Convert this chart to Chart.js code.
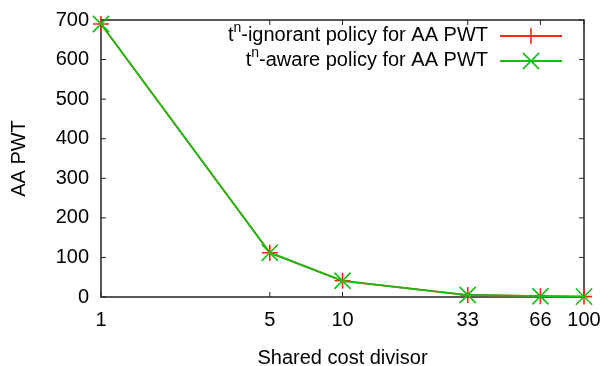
<!DOCTYPE html>
<html>
<head>
<meta charset="utf-8">
<script src="https://cdn.jsdelivr.net/npm/chart.js@4.4.1/dist/chart.umd.min.js"></script>
<style>
  html, body { margin: 0; padding: 0; background: #fff; }
</style>
</head>
<body>
<canvas id="c" width="603" height="366"></canvas>
<script>
// data
const divisors = [1, 5, 10, 33, 66, 100];
const ignorantPwt = [690, 112, 41, 5, 2, 1];
const awarePwt = [690, 112, 41, 5, 2, 1];
const xTickValues = [1, 5, 10, 33, 66, 100];
const seriesLabels = ['tⁿ-ignorant policy for AA PWT', 'tⁿ-aware policy for AA PWT'];

const FONT = "'Liberation Sans', Arial, Helvetica, sans-serif";
const RED = '#f42a10';
const GREEN = '#12c012';
const FRAME = '#222';

const toPoints = (ys) => divisors.map((d, i) => ({ x: d, y: ys[i] }));

// border box + inward ticks on all four sides, like gnuplot mirror tics
const gnuplotFrame = {
  id: 'gnuplotFrame',
  beforeDatasetsDraw(chart) {
    const { ctx, chartArea: a, scales: { x, y } } = chart;
    const tl = 5;
    ctx.save();
    ctx.strokeStyle = FRAME;
    ctx.lineWidth = 1;
    ctx.beginPath();
    x.ticks.forEach(t => {
      const px = x.getPixelForValue(t.value);
      ctx.moveTo(px, a.bottom); ctx.lineTo(px, a.bottom - tl);
      ctx.moveTo(px, a.top); ctx.lineTo(px, a.top + tl);
    });
    y.ticks.forEach(t => {
      const py = y.getPixelForValue(t.value);
      ctx.moveTo(a.left, py); ctx.lineTo(a.left + tl, py);
      ctx.moveTo(a.right, py); ctx.lineTo(a.right - tl, py);
    });
    ctx.stroke();
    ctx.lineWidth = 1.5;
    ctx.strokeRect(a.left, a.top, a.right - a.left, a.bottom - a.top);
    ctx.restore();
  }
};

// key in the top right corner: text right aligned, sample on the right
const gnuplotKey = {
  id: 'gnuplotKey',
  afterDatasetsDraw(chart) {
    const { ctx, chartArea: a } = chart;
    const textRight = a.right - 96;
    const lineL = a.right - 84, lineR = a.right - 22;
    const mid = (lineL + lineR) / 2;
    chart.data.datasets.forEach((ds, i) => {
      const ly = a.top + 16 + i * 25;
      const base = ly + 5;
      // text with superscript n
      const parts = ds.label.split('ⁿ');
      const normal = `20px ${FONT}`;
      const sup = `14px ${FONT}`;
      ctx.save();
      ctx.fillStyle = '#000';
      ctx.textBaseline = 'alphabetic';
      ctx.textAlign = 'left';
      ctx.font = normal;
      const w0 = ctx.measureText(parts[0]).width;
      const w2 = ctx.measureText(parts[1]).width;
      ctx.font = sup;
      const w1 = ctx.measureText('n').width;
      let x0 = textRight - (w0 + w1 + w2);
      ctx.font = normal;
      ctx.fillText(parts[0], x0, base);
      ctx.font = sup;
      ctx.fillText('n', x0 + w0, base - 9);
      ctx.font = normal;
      ctx.fillText(parts[1], x0 + w0 + w1, base);
      // sample line + marker
      ctx.strokeStyle = ds.borderColor;
      ctx.lineWidth = ds.borderWidth;
      ctx.beginPath();
      ctx.moveTo(lineL, ly);
      ctx.lineTo(lineR, ly);
      ctx.stroke();
      ctx.lineWidth = ds.pointBorderWidth;
      ctx.fillStyle = ds.borderColor;
      Chart.helpers.drawPoint(ctx, {
        pointStyle: ds.pointStyle,
        radius: ds.pointRadius,
        rotation: 0,
        borderWidth: ds.pointBorderWidth
      }, mid, ly);
      ctx.restore();
    });
  }
};

new Chart(document.getElementById('c'), {
  type: 'line',
  data: {
    datasets: [
      {
        label: seriesLabels[0],
        data: toPoints(ignorantPwt),
        order: 1, // drawn first, green goes on top
        borderColor: RED,
        backgroundColor: RED,
        borderWidth: 1.8,
        pointStyle: 'cross',
        pointRadius: 8,
        pointHoverRadius: 8,
        pointBorderWidth: 1.6,
        pointBorderColor: RED,
        tension: 0,
        clip: false
      },
      {
        label: seriesLabels[1],
        data: toPoints(awarePwt),
        order: 0,
        borderColor: GREEN,
        backgroundColor: GREEN,
        borderWidth: 1.8,
        pointStyle: 'crossRot',
        pointRadius: 11.5,
        pointHoverRadius: 11.5,
        pointBorderWidth: 1.6,
        pointBorderColor: GREEN,
        tension: 0,
        clip: false
      }
    ]
  },
  options: {
    responsive: false,
    animation: false,
    events: [],
    layout: { padding: { top: 20, right: 19, left: 0, bottom: 0 } },
    plugins: {
      legend: { display: false },
      tooltip: { enabled: false }
    },
    scales: {
      x: {
        type: 'logarithmic',
        min: 1,
        max: 100,
        afterBuildTicks: s => { s.ticks = xTickValues.map(v => ({ value: v })); },
        afterFit: s => { s.height = 69; s.paddingLeft = 0; s.paddingRight = 0; },
        ticks: {
          autoSkip: false,
          maxRotation: 0,
          padding: 11,
          color: '#000',
          font: { family: FONT, size: 20 },
          callback: v => String(v)
        },
        grid: { display: false, drawTicks: false },
        border: { display: false },
        title: {
          display: true,
          text: 'Shared cost divisor',
          color: '#000',
          font: { family: FONT, size: 20, lineHeight: 1 },
          padding: { top: 0, bottom: -2 }
        }
      },
      y: {
        min: 0,
        max: 700,
        afterFit: s => { s.width = 101; s.paddingTop = 0; s.paddingBottom = 0; },
        ticks: {
          stepSize: 100,
          padding: 12,
          color: '#000',
          font: { family: FONT, size: 20 }
        },
        grid: { display: false, drawTicks: false },
        border: { display: false },
        title: {
          display: true,
          text: 'AA PWT',
          color: '#000',
          font: { family: FONT, size: 20, lineHeight: 1.2 },
          padding: { top: 7, bottom: 0 }
        }
      }
    }
  },
  plugins: [gnuplotFrame, gnuplotKey]
});
</script>
</body>
</html>
